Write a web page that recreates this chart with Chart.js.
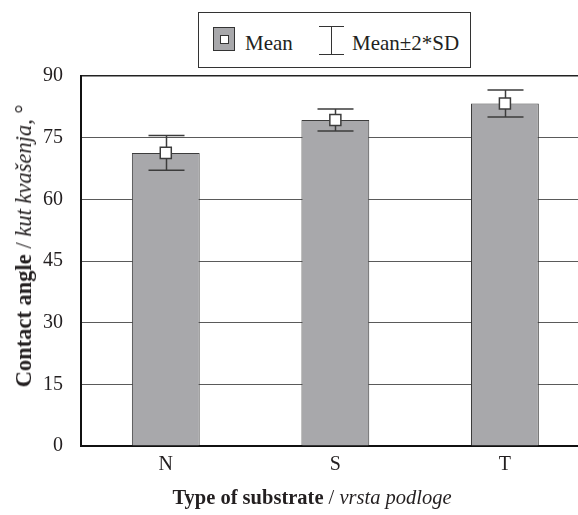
<!DOCTYPE html>
<html><head><meta charset="utf-8">
<script src="https://cdn.jsdelivr.net/npm/chart.js@4/dist/chart.umd.min.js"></script>
<style>
html,body{margin:0;padding:0;background:#fff;}
#wrap{position:relative;width:578px;height:515px;overflow:hidden;font-family:"Liberation Serif","Times New Roman",serif;color:#231f20;}
#c{position:absolute;left:0;top:0;}
#legend{position:absolute;left:198px;top:12px;width:271px;height:54px;border:1px solid #333;background:#fff;}
.lg-text{position:absolute;font-size:21px;line-height:21px;white-space:nowrap;}
#icon1{position:absolute;left:14px;top:14px;width:22px;height:24px;background:#a8a8ab;border:1px solid #333;box-sizing:border-box;}
#icon1 div{position:absolute;left:6px;top:7px;width:9px;height:9px;background:#fff;border:1px solid #333;box-sizing:border-box;}
#icon2{position:absolute;left:120px;top:13px;width:25px;height:29px;}
#icon2 .cap{position:absolute;left:0;width:25px;height:1px;background:#333;}
#icon2 .stem{position:absolute;left:12px;top:0;width:1px;height:29px;background:#333;}
#ytitle{position:absolute;left:24px;top:246px;transform:translate(-50%,-50%) rotate(-90deg);white-space:nowrap;font-size:22.5px;line-height:22px;}
#xtitle{position:absolute;left:312px;top:497px;transform:translate(-50%,-50%);white-space:nowrap;font-size:20.5px;line-height:21px;}
</style>
</head><body>
<div id="wrap">
<canvas id="c" width="599" height="515" style="width:599px;height:515px"></canvas>
<div id="legend">
  <div id="icon1"><div></div></div>
  <span class="lg-text" style="left:46px;top:20px">Mean</span>
  <div id="icon2"><div class="cap" style="top:0"></div><div class="stem"></div><div class="cap" style="top:28px"></div></div>
  <span class="lg-text" style="left:153px;top:20px">Mean±2*SD</span>
</div>
<div id="ytitle"><b>Contact angle</b> / <i>kut kvašenja,</i> °</div>
<div id="xtitle"><b>Type of substrate</b> / <i>vrsta podloge</i></div>
</div>
<script>
const categories = ['N', 'S', 'T'];
const means = [71.3, 79.3, 83.3];
const twoSD = [4.2, 2.7, 3.3];
const yTicks = [0, 15, 30, 45, 60, 75, 90];

const errorBars = {
  id: 'errorBars',
  afterDatasetDraw(chart, args) {
    if (args.index !== 0) return;
    const meta = chart.getDatasetMeta(0);
    const y = chart.scales.y;
    const ctx = chart.ctx;
    ctx.save();
    ctx.strokeStyle = '#3c3c3c';
    ctx.lineWidth = 1.5;
    meta.data.forEach((bar, i) => {
      const x = Math.round(bar.x) + 0.5;
      const yt = y.getPixelForValue(means[i] + twoSD[i]);
      const yb = y.getPixelForValue(means[i] - twoSD[i]);
      ctx.beginPath();
      ctx.moveTo(x, yt); ctx.lineTo(x, yb);
      ctx.moveTo(x - 18, yt); ctx.lineTo(x + 18, yt);
      ctx.moveTo(x - 18, yb); ctx.lineTo(x + 18, yb);
      ctx.stroke();
    });
    ctx.restore();
  }
};

const font = { family: "'Liberation Serif', 'Times New Roman', serif", size: 20 };

new Chart(document.getElementById('c'), {
  type: 'bar',
  data: {
    labels: categories,
    datasets: [
      {
        label: 'Mean',
        data: means,
        backgroundColor: '#a8a8ab',
        borderColor: '#3c3c3c',
        borderWidth: 1,
        barPercentage: 0.4,
        categoryPercentage: 1,
        order: 1
      },
      {
        type: 'line',
        label: 'Mean marker',
        data: means,
        showLine: false,
        pointStyle: 'rect',
        pointRadius: 7.8,
        pointBackgroundColor: '#ffffff',
        pointBorderColor: '#3c3c3c',
        pointBorderWidth: 1.5,
        order: 0
      }
    ]
  },
  options: {
    responsive: false,
    animation: false,
    events: [],
    layout: { padding: { top: 76, left: 0, right: 0, bottom: 0 } },
    plugins: { legend: { display: false }, tooltip: { enabled: false } },
    scales: {
      x: {
        grid: { display: false, drawTicks: false },
        border: { display: true, color: '#111', width: 2 },
        ticks: { font, color: '#231f20', padding: 7 },
        afterFit(s) { s.height = 69; }
      },
      y: {
        min: 0, max: 90,
        afterBuildTicks(s) { s.ticks = yTicks.map(v => ({ value: v })); },
        grid: {
          drawTicks: false,
          color: ctx => ctx.tick && ctx.tick.value === 90 ? '#222' : '#5a5a5a',
          lineWidth: ctx => ctx.tick && ctx.tick.value === 90 ? 1.5 : 1
        },
        border: { display: true, color: '#111', width: 2 },
        ticks: { font, color: '#231f20', padding: 18 },
        afterFit(s) { s.width = 81; }
      }
    }
  },
  plugins: [errorBars]
});
</script>
</body></html>
